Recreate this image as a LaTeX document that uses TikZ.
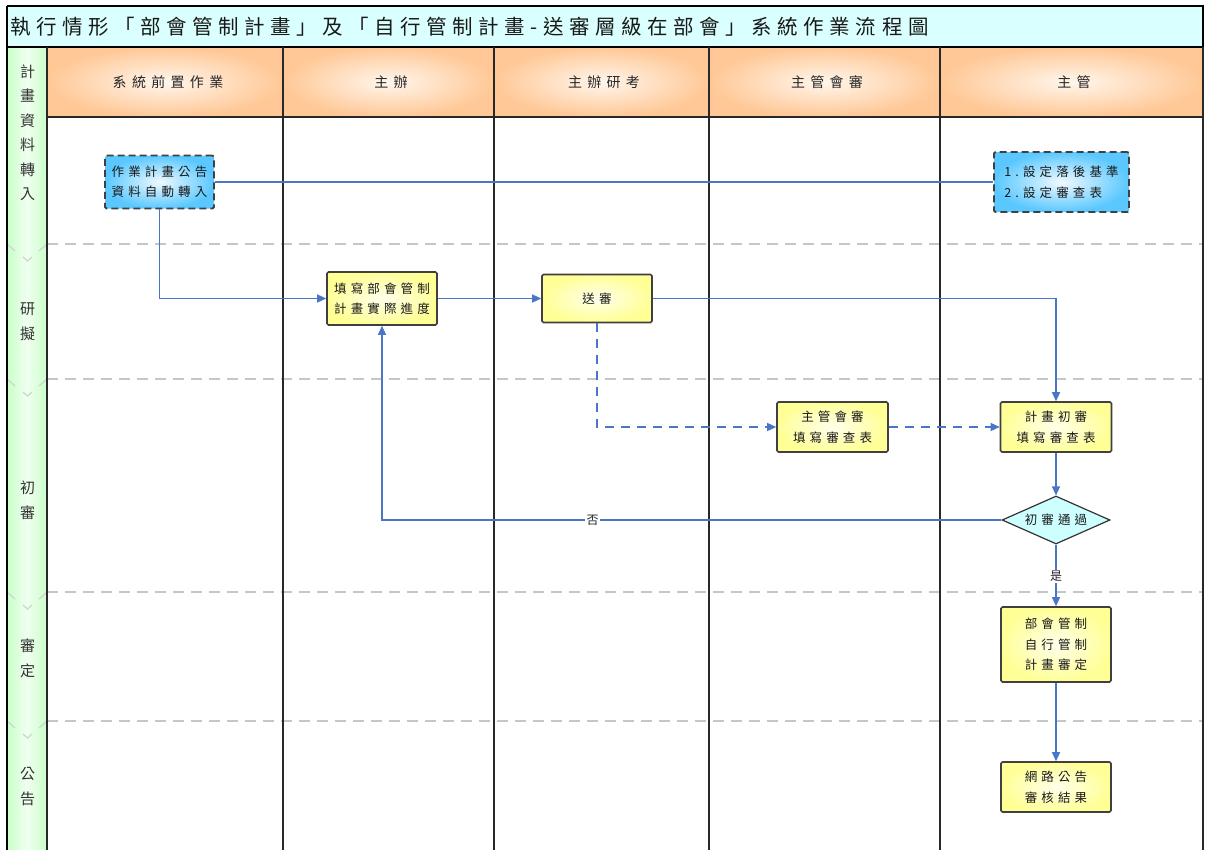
\documentclass[tikz,border=0pt]{standalone}
\usepackage{fontspec}
\setmainfont{Noto Sans CJK TC}
\newfontfamily\cjkls[LetterSpace=33]{Noto Sans CJK TC}
\newfontfamily\cjkhd[LetterSpace=38]{Noto Sans CJK TC}
\newfontfamily\cjktitle[LetterSpace=27]{Noto Sans CJK TC}
\usetikzlibrary{shapes.geometric,arrows.meta}
\definecolor{linkblue}{RGB}{74,118,200}
\definecolor{hdrorange}{RGB}{255,200,150}
\definecolor{hdrlight}{RGB}{255,246,236}
\definecolor{titlecyan}{RGB}{218,255,255}
\definecolor{lanegreen}{RGB}{200,255,200}
\definecolor{lanelight}{RGB}{240,255,240}
\definecolor{boxyellow}{RGB}{255,255,150}
\definecolor{boxblue}{RGB}{90,200,255}
\definecolor{diamcyan}{RGB}{205,255,255}
\definecolor{gridline}{RGB}{40,40,40}
\begin{document}
\begin{tikzpicture}[x=1pt,y=-1pt,
  boxtext/.style={font=\cjkls\fontsize{12.5}{20.5}\selectfont, text=black!90, align=center, inner sep=0pt},
  ybox/.style={boxtext, rectangle, draw=black!75, line width=1.6pt, rounded corners=1.5pt,
    inner color={rgb,255:red,255;green,255;blue,235}, outer color=boxyellow},
  bbox/.style={boxtext, rectangle, draw=black!75, line width=1.8pt, dash pattern=on 7pt off 4pt, rounded corners=1.5pt,
    inner color={rgb,255:red,240;green,250;blue,255}, outer color=boxblue},
  diam/.style={boxtext, diamond, aspect=2.25, draw=black!80, line width=1.2pt, fill=diamcyan},
  conn/.style={draw=linkblue, line width=1.3pt},
  arr/.style={conn, -{Triangle[length=9pt,width=8pt]}},
  darr/.style={arr, dash pattern=on 9pt off 7pt},
  lbl/.style={font=\fontsize{12}{12}\selectfont, text=black!85, fill=white, inner sep=1.5pt},
  hdr/.style={font=\cjkhd\fontsize{14}{14}\selectfont, text=black!85, inner sep=0pt},
  lane/.style={font=\fontsize{15}{24.5}\selectfont, text=black!80, align=center, inner sep=0pt},
  sepline/.style={draw=gray!45, line width=1.3pt, dash pattern=on 11pt off 7pt},
  chev/.style={draw=gray!35, line width=1.2pt},
  colline/.style={draw=gridline, line width=2pt}]
\useasboundingbox (0,0) rectangle (1209,849);
\fill[white] (0,0) rectangle (1209,849);
% title band
\fill[titlecyan] (7,6) rectangle (1203,47);
% header cells
\foreach \a/\b in {47/283,283/494,494/709,709/940,940/1203}
  \shade[inner color=hdrlight, outer color=hdrorange] (\a,47) rectangle (\b,117);
% left lane column
\shade[left color=lanegreen, right color=lanegreen, middle color=lanelight] (7,47) rectangle (47,852);
% phase separators
\foreach \y in {244,379,592,721} {
  \draw[sepline] (47,\y) -- (1203,\y);
  \draw[chev] (7,\y) -- (15,\y+7);
  \draw[chev] (39,\y+7) -- (47,\y);
  \draw[chev] (23,\y+13) -- (27.5,\y+17) -- (32,\y+13);
}
% frame
\draw[black, line width=1.3pt] (7,6) -- (1203,6) -- (1203,852);
\draw[black, line width=1.3pt] (7,6) -- (7,852);
\draw[black, line width=1.3pt] (7,47) -- (1203,47);
\draw[colline] (47,117) -- (1203,117);
\foreach \x in {47,283,494,709,940,1203}
  \draw[colline] (\x,47) -- (\x,852);
% title
\node[anchor=west, font=\cjktitle\fontsize{20.5}{20.5}\selectfont, text=black!90, inner sep=0pt] (title) at (10,27)
  {執行情形「部會管制計畫」及「自行管制計畫-送審層級在部會」系統作業流程圖};
% column headers
\node[hdr] (h1) at (168,82) {系統前置作業};
\node[hdr] (h2) at (391,82) {主辦};
\node[hdr] (h3) at (604,82) {主辦研考};
\node[hdr] (h4) at (827,82) {主管會審};
\node[hdr] (h5) at (1074,82) {主管};
% lane labels
\node[lane] (l1) at (27.5,133) {計\\畫\\資\\料\\轉\\入};
\node[lane] (l2) at (27.5,321.5) {研\\擬};
\node[lane] (l3) at (27.5,500.5) {初\\審};
\node[lane] (l4) at (27.5,658.5) {審\\定};
\node[lane] (l5) at (27.5,786.5) {公\\告};
% process nodes
\node[bbox, minimum width=109pt, minimum height=53pt] (n1) at (159.5,182) {作業計畫公告\\資料自動轉入};
\node[bbox, minimum width=135pt, minimum height=60pt, align=left] (n2) at (1061.5,182) {1.設定落後基準\\2.設定審查表};
\node[ybox, minimum width=110pt, minimum height=53pt] (n3) at (382,298.5) {填寫部會管制\\計畫實際進度};
\node[ybox, minimum width=110pt, minimum height=48pt] (n4) at (597,298.5) {送審};
\node[ybox, minimum width=111pt, minimum height=50pt] (n5) at (832.5,427) {主管會審\\填寫審查表};
\node[ybox, minimum width=111pt, minimum height=50pt] (n6) at (1056,427) {計畫初審\\填寫審查表};
\node[diam, minimum width=108pt, minimum height=48pt] (d7) at (1056,520) {初審通過};
\node[ybox, minimum width=110pt, minimum height=75pt] (n8) at (1056,644.5) {部會管制\\自行管制\\計畫審定};
\node[ybox, minimum width=110pt, minimum height=50pt] (n9) at (1056,787) {網路公告\\審核結果};
% connectors
\draw[conn] (n1.east) -- (n1.east -| n2.west);
\draw[arr] (n1.south) |- (n3.west);
\draw[arr] (n3.east) -- (n4.west);
\draw[arr] (n4.east) -| (n6.north);
\draw[darr] (n4.south) |- (n5.west);
\draw[darr] (n5.east) -- (n6.west);
\draw[arr] (n6.south) -- (d7.north);
\draw[arr] (d7.west) -| node[lbl, pos=0.33] {否} (n3.south);
\draw[arr] (d7.south) -- node[lbl, pos=0.52] {是} (n8.north);
\draw[arr] (n8.south) -- (n9.north);
\end{tikzpicture}
\end{document}
